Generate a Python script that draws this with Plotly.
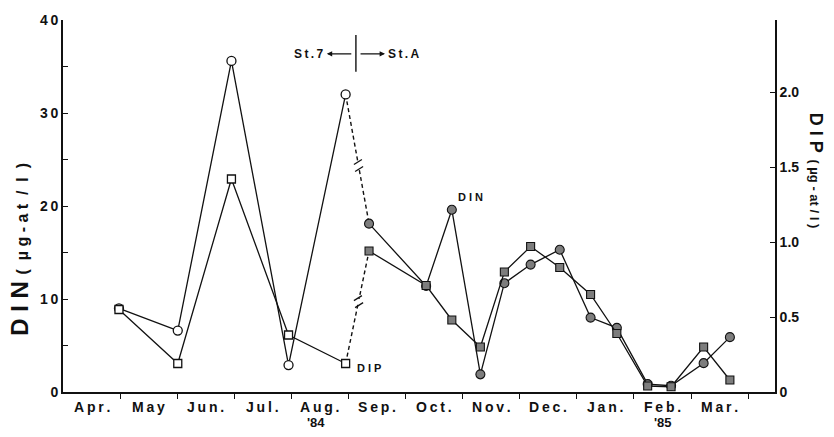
import plotly.graph_objects as go

# ---------------- data (months since 1 Apr 1984) ----------------
months = ["Apr.", "May", "Jun.", "Jul.", "Aug.", "Sep.", "Oct.", "Nov.", "Dec.", "Jan.", "Feb.", "Mar."]
month_centers = [i + 0.5 for i in range(12)]
month_bounds = list(range(1, 13))

st7_x = [0.98, 2.01, 2.95, 3.95, 4.95]
st7_din = [9.0, 6.6, 35.6, 2.9, 32.0]
st7_dip = [0.55, 0.19, 1.42, 0.38, 0.19]

stA_x = [5.36, 6.36, 6.81, 7.31, 7.73, 8.19, 8.70, 9.24, 9.70, 10.24, 10.65, 11.22, 11.68]
stA_din = [18.1, 11.4, 19.6, 1.9, 11.7, 13.7, 15.3, 8.0, 6.9, 0.85, 0.67, 3.1, 5.9]
stA_dip = [0.94, 0.71, 0.48, 0.30, 0.80, 0.97, 0.83, 0.65, 0.39, 0.04, 0.035, 0.30, 0.08]

din_ticks = [0, 10, 20, 30, 40]
din_minor = [5, 15, 25, 35]
dip_ticks = [0, 0.5, 1.0, 1.5, 2.0]
dip_labels = ["0", "0.5", "1.0", "1.5", "2.0"]

FONT = "Liberation Sans, Arial, sans-serif"
BLK = "#111111"
GRAY = "#7d7d7d"
TS = "\u2009"  # thin space for letter spacing


def spaced(s):
    return TS.join(list(s))


fig = go.Figure()

# dashed connectors St.7 -> St.A
fig.add_trace(go.Scatter(x=[st7_x[-1], stA_x[0]], y=[st7_din[-1], stA_din[0]], mode="lines",
                         line=dict(color=BLK, width=1.4, dash="4px,3px"), showlegend=False))
fig.add_trace(go.Scatter(x=[st7_x[-1], stA_x[0]], y=[st7_dip[-1], stA_dip[0]], mode="lines",
                         line=dict(color=BLK, width=1.4, dash="4px,3px"), yaxis="y2", showlegend=False))

# St.7 (open symbols)
fig.add_trace(go.Scatter(x=st7_x, y=st7_dip, mode="lines+markers", yaxis="y2",
                         line=dict(color=BLK, width=1.3),
                         marker=dict(symbol="square", size=8, color="white", line=dict(color=BLK, width=1.3)),
                         showlegend=False))
fig.add_trace(go.Scatter(x=st7_x, y=st7_din, mode="lines+markers",
                         line=dict(color=BLK, width=1.3),
                         marker=dict(symbol="circle", size=9, color="white", line=dict(color=BLK, width=1.3)),
                         showlegend=False))

# St.A (filled symbols)
fig.add_trace(go.Scatter(x=stA_x, y=stA_dip, mode="lines+markers", yaxis="y2",
                         line=dict(color=BLK, width=1.3),
                         marker=dict(symbol="square", size=8, color=GRAY, line=dict(color=BLK, width=1.1)),
                         showlegend=False))
fig.add_trace(go.Scatter(x=stA_x, y=stA_din, mode="lines+markers",
                         line=dict(color=BLK, width=1.3),
                         marker=dict(symbol="circle", size=9, color=GRAY, line=dict(color=BLK, width=1.1)),
                         showlegend=False))

# break marks on the dashed connectors
shapes = []
t = 0.55
for yref, ys in (("y", (st7_din[-1], stA_din[0])), ("y2", (st7_dip[-1], stA_dip[0]))):
    bx = st7_x[-1] + t * (stA_x[0] - st7_x[-1])
    by = ys[0] + t * (ys[1] - ys[0])
    common = dict(type="line", xref="x", yref=yref, xsizemode="pixel", ysizemode="pixel",
                  xanchor=bx, yanchor=by)
    shapes.append(dict(common, x0=-0.6, y0=2.5, x1=0.6, y1=-2.5, line=dict(color="white", width=4)))
    for cx, cy in ((-0.6, 3.5), (0.6, -3.5)):
        shapes.append(dict(common, x0=cx - 4, y0=cy - 2.5, x1=cx + 4, y1=cy + 2.5,
                           line=dict(color=BLK, width=1.3)))

# station divider
shapes.append(dict(type="line", xref="x", yref="paper", x0=5.13, x1=5.13, y0=0.861, y1=0.96,
                   line=dict(color=BLK, width=1.4)))

bold = lambda size: dict(family=FONT, size=size, color=BLK, weight="bold")

annotations = [
    dict(x=4.62, y=0.909, xref="x", yref="paper", ax=26, ay=0, axref="pixel", ayref="pixel",
         text="", showarrow=True, arrowhead=2, arrowsize=0.9, arrowwidth=1.2, arrowcolor=BLK),
    dict(x=5.64, y=0.909, xref="x", yref="paper", ax=-26, ay=0, axref="pixel", ayref="pixel",
         text="", showarrow=True, arrowhead=2, arrowsize=0.9, arrowwidth=1.2, arrowcolor=BLK),
    dict(x=4.62, y=0.909, xref="x", yref="paper", xanchor="right", yanchor="middle", xshift=-1,
         text=spaced("St.7"), showarrow=False, font=bold(12)),
    dict(x=5.64, y=0.909, xref="x", yref="paper", xanchor="left", yanchor="middle", xshift=1,
         text=spaced("St.A"), showarrow=False, font=bold(12)),
    dict(x=stA_x[2], y=stA_din[2], xref="x", yref="y", xanchor="left", yanchor="bottom",
         xshift=4, yshift=5, text="D I N", showarrow=False, font=bold(11)),
    dict(x=st7_x[-1], y=st7_dip[-1], xref="x", yref="y2", xanchor="left", yanchor="middle",
         xshift=9, yshift=-4, text="D I P", showarrow=False, font=bold(11)),
    dict(x=4.5, y=-0.081, xref="x", yref="paper", xanchor="center", yanchor="middle", xshift=-4,
         text="'84", showarrow=False, font=bold(13)),
    dict(x=10.5, y=-0.081, xref="x", yref="paper", xanchor="center", yanchor="middle",
         text="'85", showarrow=False, font=bold(13)),
    dict(x=-0.0604, y=0.385, xref="paper", yref="paper", textangle=-90, showarrow=False,
         xanchor="center", yanchor="middle",
         text="<span style='font-size:24px'>D I N</span>  <span style='font-size:16px'>(  µ g - a t  /  l  )</span>",
         font=dict(family=FONT, color=BLK, weight="bold")),
    dict(x=1.058, y=0.594, xref="paper", yref="paper", textangle=90, showarrow=False,
         xanchor="center", yanchor="middle",
         text="<span style='font-size:18px'>D I P</span>  <span style='font-size:13px'>( µg - at / l )</span>",
         font=dict(family=FONT, color=BLK, weight="bold")),
]

# month labels centred in each month
for c, m in zip(month_centers, months):
    annotations.append(dict(x=c, y=-0.040, xref="x", yref="paper", xanchor="center", yanchor="middle",
                            text=spaced(m), showarrow=False, font=bold(14)))

tickfont = bold(14)

fig.update_layout(
    width=834, height=437,
    margin=dict(l=63, r=59, t=18, b=45),
    paper_bgcolor="white", plot_bgcolor="white",
    showlegend=False,
    shapes=shapes, annotations=annotations,
    xaxis=dict(range=[0, 12.47], showgrid=False, zeroline=False, showline=True, linecolor=BLK, linewidth=1.6,
               tickmode="array", tickvals=month_bounds, showticklabels=False,
               ticks="outside", ticklen=5, tickwidth=1, tickcolor=BLK),
    yaxis=dict(range=[0, 40], showgrid=False, zeroline=False, showline=True, linecolor=BLK, linewidth=1.6,
               tickmode="array", tickvals=din_ticks, ticktext=[spaced(str(v)) for v in din_ticks],
               ticks="inside", ticklen=5, tickwidth=1.2, tickcolor=BLK,
               tickfont=tickfont,
               minor=dict(tickmode="array", tickvals=din_minor, ticks="inside", ticklen=5,
                          tickwidth=1.2, tickcolor=BLK)),
    yaxis2=dict(range=[0, 2.48], overlaying="y", side="right", showgrid=False, zeroline=False,
                showline=True, linecolor=BLK, linewidth=1.6,
                tickmode="array", tickvals=dip_ticks, ticktext=dip_labels,
                ticks="inside", ticklen=5, tickwidth=1.2, tickcolor=BLK, tickfont=tickfont),
)

fig.write_html("out.html", config={"displayModeBar": False},
               post_script="document.body.style.margin='0';")
